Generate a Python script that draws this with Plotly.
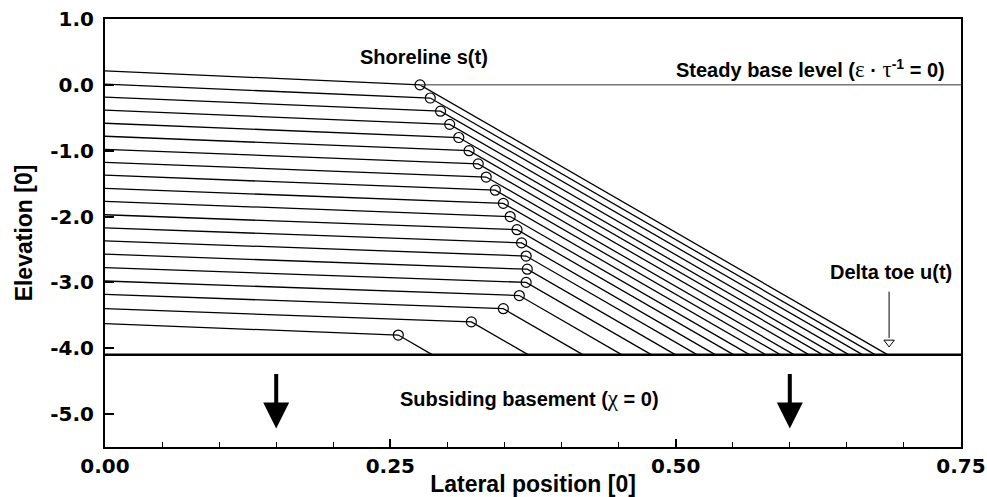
import plotly.graph_objects as go

# ---- data ----
shore_elev = [0.0, -0.2, -0.4, -0.6, -0.8, -1.0, -1.2, -1.4, -1.6, -1.8,
              -2.0, -2.2, -2.4, -2.6, -2.8, -3.0, -3.2, -3.4, -3.6, -3.8]
shore_x = [0.276, 0.285, 0.294, 0.302, 0.310, 0.319, 0.327, 0.334, 0.342, 0.349,
           0.355, 0.361, 0.365, 0.369, 0.370, 0.369, 0.363, 0.349, 0.321, 0.257]
upstream_elev = [0.213, 0.010, -0.187, -0.385, -0.583, -0.781, -0.979, -1.177, -1.372, -1.572,
                 -1.770, -1.973, -2.171, -2.369, -2.572, -2.775, -2.979, -3.181, -3.399, -3.627]
toe_x = [0.686, 0.675, 0.664, 0.652, 0.640, 0.629, 0.617, 0.604, 0.592, 0.579,
         0.565, 0.551, 0.535, 0.519, 0.500, 0.479, 0.453, 0.419, 0.371, 0.287]
upstream_x = 0.0
basement_elev = -4.1
base_level = 0.0

x_range = [0.0, 0.75]
y_range = [-5.5, 1.0]
x_tick_vals = [0.0, 0.25, 0.5, 0.75]
x_tick_text = ["0.00", "0.25", "0.50", "0.75"]
y_tick_vals = [1.0, 0.0, -1.0, -2.0, -3.0, -4.0, -5.0]
y_tick_text = ["1.0", "0.0", "-1.0", "-2.0", "-3.0", "-4.0", "-5.0"]

subsidence_arrow_x = [0.15, 0.60]
subsidence_arrow_top = -4.37
subsidence_arrow_tip = -5.22
toe_arrow_x = 0.687
toe_arrow_top = -3.14
toe_arrow_tip = -3.98

LBL_FONT = "Liberation Sans, Arial, sans-serif"
TICK_FONT = "DejaVu Sans, Verdana, sans-serif"

fig = go.Figure()

# profile lines: upstream -> shoreline -> toe
for ue, sx, se, tx in zip(upstream_elev, shore_x, shore_elev, toe_x):
    fig.add_trace(go.Scatter(
        x=[upstream_x, sx, tx], y=[ue, se, basement_elev],
        mode="lines", line=dict(color="black", width=1.3),
        showlegend=False, hoverinfo="skip"))

# steady base level line
fig.add_trace(go.Scatter(
    x=[shore_x[0], x_range[1]], y=[base_level, base_level],
    mode="lines", line=dict(color="#777777", width=1.5),
    showlegend=False, hoverinfo="skip"))

# subsiding basement line
fig.add_trace(go.Scatter(
    x=x_range, y=[basement_elev, basement_elev],
    mode="lines", line=dict(color="black", width=2.5),
    showlegend=False, hoverinfo="skip"))

# shoreline markers
fig.add_trace(go.Scatter(
    x=shore_x, y=shore_elev, mode="markers",
    marker=dict(symbol="circle-open", size=10, color="black", line=dict(width=1.2)),
    showlegend=False, hoverinfo="skip"))

# delta toe arrow (thin, hollow head)
px_per_unit = 428 / (y_range[1] - y_range[0])
head_r = 4.5 / px_per_unit
fig.add_trace(go.Scatter(
    x=[toe_arrow_x, toe_arrow_x], y=[toe_arrow_top, toe_arrow_tip + 2 * head_r],
    mode="lines", line=dict(color="black", width=1),
    showlegend=False, hoverinfo="skip"))
fig.add_trace(go.Scatter(
    x=[toe_arrow_x], y=[toe_arrow_tip + head_r], mode="markers",
    marker=dict(symbol="triangle-down-open", size=9, color="black", line=dict(width=1)),
    showlegend=False, hoverinfo="skip"))

annotations = []
# subsidence arrows
for ax_ in subsidence_arrow_x:
    annotations.append(dict(
        x=ax_, y=subsidence_arrow_tip, ax=ax_, ay=subsidence_arrow_top,
        xref="x", yref="y", axref="x", ayref="y", text="",
        showarrow=True, arrowhead=2, arrowwidth=4, arrowsize=1.3,
        arrowcolor="black", standoff=0))

GREEK = "<span style='font-family:Liberation Serif;font-weight:normal;font-size:23px'>{}</span>"
txt_font = dict(family=LBL_FONT, size=20, color="black", weight="bold")
annotations += [
    dict(x=0.2795, y=0.43, xref="x", yref="y", text="Shoreline s(t)",
         showarrow=False, font=txt_font, xanchor="center", yanchor="middle"),
    dict(x=0.7377, y=0.24, xref="x", yref="y",
         text="Steady base level (" + GREEK.format("ε") + " · " + GREEK.format("τ")
              + "<sup>-1</sup> = 0)",
         showarrow=False, font=txt_font, xanchor="right", yanchor="middle"),
    dict(x=0.6887, y=-2.84, xref="x", yref="y", text="Delta toe u(t)",
         showarrow=False, font=txt_font, xanchor="center", yanchor="middle"),
    dict(x=0.3715, y=-4.76, xref="x", yref="y",
         text="Subsiding basement (" + GREEK.format("χ") + " = 0)",
         showarrow=False, font=txt_font, xanchor="center", yanchor="middle"),
]

axis_common = dict(showline=True, linecolor="black", linewidth=2, mirror=True,
                   showgrid=False, zeroline=False, ticks="inside",
                   tickcolor="black", automargin=False)

fig.update_layout(
    width=987, height=497,
    margin=dict(l=105, r=26, t=19, b=50),
    plot_bgcolor="white", paper_bgcolor="white",
    annotations=annotations,
    xaxis=dict(range=x_range, tickvals=x_tick_vals, ticktext=x_tick_text,
               ticklen=8, tickwidth=2,
               minor=dict(dtick=0.05, ticks="inside", ticklen=5, tickwidth=1, tickcolor="black"),
               tickfont=dict(family=TICK_FONT, size=20, color="black", weight="bold"),
               title=dict(text="Lateral position [0]", standoff=0,
                          font=dict(family=LBL_FONT, size=23, color="black", weight="bold")),
               **axis_common),
    yaxis=dict(range=y_range, tickvals=y_tick_vals, ticktext=y_tick_text,
               ticklen=9, tickwidth=2, ticklabelstandoff=5,
               tickfont=dict(family=TICK_FONT, size=20, color="black", weight="bold"),
               title=dict(text="Elevation [0]", standoff=11,
                          font=dict(family=LBL_FONT, size=23, color="black", weight="bold")),
               **axis_common),
)

fig.write_html("out.html")
